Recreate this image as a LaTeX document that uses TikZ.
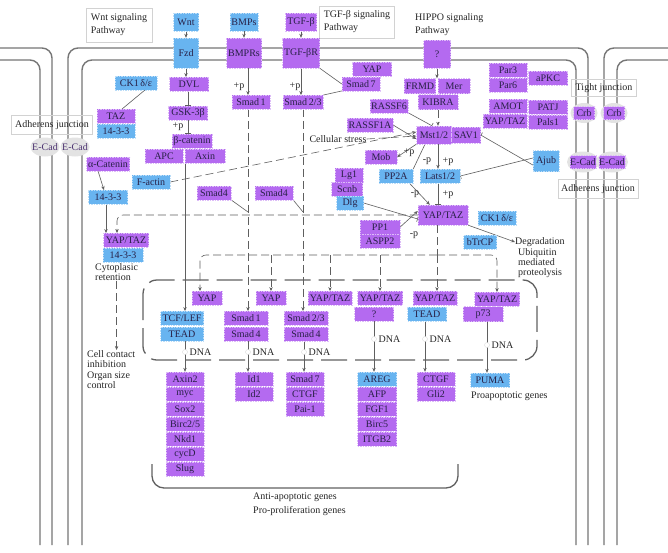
\documentclass[tikz,border=0pt]{standalone}
\usepackage{fontspec}
\setmainfont{Liberation Serif}
\usetikzlibrary{arrows.meta,shapes.geometric}
\definecolor{purp}{RGB}{180,106,240}
\definecolor{blu}{RGB}{104,180,240}
\definecolor{memb}{RGB}{118,118,118}
\definecolor{lnc}{RGB}{95,95,95}
\definecolor{txt}{RGB}{40,32,70}
\pgfdeclarelayer{back}
\pgfdeclarelayer{mid}
\pgfsetlayers{back,mid,main}
\begin{document}
\begin{tikzpicture}[x=1pt,y=-1pt,font=\fontsize{10}{10.6}\selectfont,
  box/.style={rectangle,minimum height=13.5pt,inner xsep=1.5pt,inner ysep=0.5pt,text=txt,draw=white!55!purp,dash pattern=on 1.5pt off 1pt,line width=0.4pt},
  pb/.style={box,fill=purp},
  bb/.style={box,fill=blu,draw=white!55!blu},
  gb/.style={pb,minimum height=14pt,minimum width=38pt},
  lab/.style={draw=gray!35,solid,align=left,inner sep=3pt,text=black!85,font=\fontsize{10}{13}\selectfont},
  txtn/.style={align=left,inner sep=0pt,text=black!85},
  plab/.style={inner sep=0.5pt,text=black!85},
  mem/.style={draw=memb,line width=1.4pt,rounded corners=10pt},
  ln/.style={draw=lnc,line width=0.6pt},
  arr/.style={ln,-{Stealth[length=4pt,width=3.4pt]}},
  inh/.style={ln,-{Bar[width=6pt]}},
  dsh/.style={ln,dash pattern=on 8pt off 4pt},
  ecbg/.style={ellipse,fill=gray!22,inner sep=0pt},
  dnac/.style={circle,fill=white,draw=gray!30,inner sep=0pt,minimum size=5pt},
  env/.style={draw=black!62,line width=1.3pt}
]
\useasboundingbox (0,0) rectangle (668,552);

% ---------- labels ----------
\node[lab,minimum width=66pt,minimum height=34pt] (wntlab) at (119,25) {Wnt signaling\\Pathway};
\node[lab,minimum width=75pt,minimum height=32pt] (tgflab) at (357,22) {TGF-β signaling\\Pathway};
\node[txtn,anchor=north west,font=\fontsize{10}{13}\selectfont] (hippolab) at (415,13) {HIPPO signaling\\Pathway};
\node[lab,minimum width=81pt,minimum height=19pt,align=center] (adhl) at (52,125) {Adherens junction};
\node[lab,minimum width=65pt,minimum height=17pt,align=center] (tightl) at (604,88) {Tight junction};
\node[lab,minimum width=80pt,minimum height=19pt,align=center] (adhr) at (598,189) {Adherens junction};

% ---------- top receptors ----------
\node[bb,minimum width=25pt,minimum height=18pt] (wnt) at (186,22) {Wnt};
\node[bb,minimum width=25pt,minimum height=30pt] (fzd) at (186,53) {Fzd};
\node[bb,minimum width=28pt,minimum height=18pt] (bmps) at (244,22) {BMPs};
\node[pb,minimum width=35pt,minimum height=30pt] (bmpr) at (244,53) {BMPRs};
\node[pb,minimum width=31pt,minimum height=18pt] (tgfb) at (301,22) {TGF-β};
\node[pb,minimum width=37pt,minimum height=30pt] (tgfr) at (301,53) {TGF-βR};
\node[pb,minimum width=27pt,minimum height=28pt] (hq) at (437,54) {?};

% ---------- Wnt branch ----------
\node[pb,minimum width=39pt] (dvl) at (189,84) {DVL};
\node[pb,minimum width=39pt] (gsk) at (188,113) {GSK-3β};
\node[pb,minimum width=40pt] (bcat) at (192,141) {β-catenin};
\node[pb,minimum width=38pt] (apc) at (164,156) {APC};
\node[pb,minimum width=40pt] (axin) at (205,156) {Axin};
\node[plab] (pgsk) at (178,127) {+p};

% ---------- left cytoplasm ----------
\node[bb,minimum width=42pt] (ck1l) at (136,83) {CK1\,δ/ε};
\node[pb,minimum width=38pt] (taz) at (116,116) {TAZ};
\node[bb,minimum width=38pt] (fa) at (116,131) {14-3-3};
\node[pb,minimum width=43pt] (acat) at (108,164) {α-Catenin};
\node[bb,minimum width=38pt] (factin) at (151,182) {F-actin};
\node[bb,minimum width=39pt] (fb) at (108,197) {14-3-3};
\node[pb,minimum width=45pt] (yapl) at (126,240) {YAP/TAZ};
\node[bb,minimum width=40pt] (fc) at (123,255) {14-3-3};
\node[txtn,anchor=north west] (cytoret) at (95,263) {Cytoplasic\\retention};
\node[txtn,anchor=north west] (cellc) at (87,350) {Cell contact\\inhibition\\Organ size\\control};

% ---------- BMP / TGF ----------
\node[pb,minimum width=38pt] (smad1) at (251,102) {Smad\,1};
\node[pb,minimum width=39pt] (smad23) at (303,102) {Smad\,2/3};
\node[plab] (pb1) at (239,87) {+p};
\node[plab] (pb2) at (295,87) {+p};
\node[pb,minimum width=39pt] (yapt) at (372,69) {YAP};
\node[pb,minimum width=38pt] (smad7) at (361,84) {Smad\,7};
\node[pb,minimum width=34pt] (smad4a) at (214,193) {Smad4};
\node[pb,minimum width=38pt] (smad4b) at (274,193) {Smad4};

% ---------- HIPPO ----------
\node[pb,minimum width=30pt,minimum height=15pt] (frmd) at (420,86) {FRMD};
\node[pb,minimum width=32pt,minimum height=15pt] (mer) at (454,86) {Mer};
\node[pb,minimum width=40pt,minimum height=15pt] (kibra) at (438,102) {KIBRA};
\node[pb,minimum width=38pt] (rassf6) at (389,106) {RASSF6};
\node[pb,minimum width=45pt] (rassf1a) at (370,125) {RASSF1A};
\node[pb,minimum width=35pt,minimum height=18pt] (mst) at (434,135) {Mst1/2};
\node[pb,minimum width=29pt,minimum height=16pt] (sav) at (466,135) {SAV1};
\node[txtn] (cstress) at (338,139) {Cellular stress};
\node[pb,minimum width=32pt] (mob) at (381,157) {Mob};
\node[plab] (pmob) at (409,153) {+p};
\node[pb,minimum width=28pt] (lg1) at (349,175) {Lg1};
\node[pb,minimum width=31pt] (scnb) at (347,189) {Scnb};
\node[bb,minimum width=27pt] (dlg) at (350,203) {Dlg};
\node[bb,minimum width=34pt] (pp2a) at (396,176) {PP2A};
\node[bb,minimum width=40pt,minimum height=14pt] (lats) at (440,176) {Lats1/2};
\node[plab] (pm1) at (427,161) {-p};
\node[plab] (pp1l) at (448,162) {+p};
\node[pb,minimum width=50pt,minimum height=20pt] (yapc) at (443,215) {YAP/TAZ};
\node[plab] (pm2) at (415,194) {-p};
\node[plab] (pp2l) at (448,195) {+p};
\node[pb,minimum width=40pt] (pp1) at (380,227) {PP1};
\node[pb,minimum width=40pt] (aspp2) at (380,241) {ASPP2};
\node[plab] (pm3) at (414,235) {-p};
\node[bb,minimum width=38pt] (ck1r) at (497,218) {CK1\,δ/ε};
\node[bb,minimum width=33pt] (btrcp) at (480,242) {bTrCP};
\node[txtn,anchor=west] (degr) at (515,242) {Degradation};
\node[txtn,anchor=north west,font=\fontsize{10}{10}\selectfont] (ubiq) at (518,248) {Ubiquitin\\mediated\\proteolysis};
\node[bb,minimum width=26pt,minimum height=21pt] (ajub) at (546,161) {Ajub};

% ---------- tight junction ----------
\node[pb,minimum width=38pt] (par3) at (508,70) {Par3};
\node[pb,minimum width=38pt] (par6) at (508,85) {Par6};
\node[pb,minimum width=39pt] (apkc) at (548,78) {aPKC};
\node[pb,minimum width=38pt] (amot) at (508,106) {AMOT};
\node[pb,minimum width=44pt] (yaptj) at (505,121) {YAP/TAZ};
\node[pb,minimum width=39pt] (patj) at (548,107) {PATJ};
\node[pb,minimum width=39pt] (pals1) at (548,122) {Pals1};

% ---------- junction proteins ----------
\node[ecbg,minimum width=29pt,minimum height=19pt] (ec1bg) at (45,147) {};
\node[text=txt!75!purp,inner sep=0pt] (ec1) at (45,147) {E-Cad};
\node[ecbg,minimum width=29pt,minimum height=19pt] (ec2bg) at (75,147) {};
\node[text=txt!75!purp,inner sep=0pt] (ec2) at (75,147) {E-Cad};
\node[ecbg,minimum width=32pt,minimum height=21pt] (ec3bg) at (583,162) {};
\node[pb,minimum width=26pt,minimum height=13pt,inner xsep=0pt] (ec3) at (583,162) {E-Cad};
\node[ecbg,minimum width=32pt,minimum height=21pt] (ec4bg) at (612,162) {};
\node[pb,minimum width=26pt,minimum height=13pt,inner xsep=0pt] (ec4) at (612,162) {E-Cad};
\node[ecbg,minimum width=27pt,minimum height=20pt] (crb1bg) at (584,113) {};
\node[pb,minimum width=21pt,minimum height=13pt] (crb1) at (584,113) {Crb};
\node[ecbg,minimum width=27pt,minimum height=20pt] (crb2bg) at (614,113) {};
\node[pb,minimum width=21pt,minimum height=13pt] (crb2) at (614,113) {Crb};

% ---------- nucleus ----------
\node[pb,minimum width=30pt] (yn1) at (207,298) {YAP};
\node[bb,minimum width=43pt] (tcf) at (182,318) {TCF/LEF};
\node[bb,minimum width=43pt] (tead1) at (182,334) {TEAD};
\node[pb,minimum width=30pt] (yn2) at (271,298) {YAP};
\node[pb,minimum width=44pt] (s1n) at (246,318) {Smad\,1};
\node[pb,minimum width=44pt] (s4n1) at (246,334) {Smad\,4};
\node[pb,minimum width=44pt] (yn3) at (330,298) {YAP/TAZ};
\node[pb,minimum width=44pt] (s23n) at (306,318) {Smad\,2/3};
\node[pb,minimum width=44pt] (s4n2) at (306,334) {Smad\,4};
\node[pb,minimum width=45pt] (yn4) at (380,298) {YAP/TAZ};
\node[pb,minimum width=39pt] (qn) at (374,314) {?};
\node[pb,minimum width=44pt] (yn5) at (435,298) {YAP/TAZ};
\node[bb,minimum width=39pt] (tead2) at (427,314) {TEAD};
\node[pb,minimum width=45pt] (yn6) at (497,299) {YAP/TAZ};
\node[pb,minimum width=40pt,minimum height=15pt] (p73) at (483,314) {p73};

% target genes
\node[gb] (g11) at (185,379) {Axin2};
\node[gb] (g12) at (185,394) {myc};
\node[gb] (g13) at (185,409) {Sox2};
\node[gb] (g14) at (185,424) {Birc2/5};
\node[gb] (g15) at (185,439) {Nkd1};
\node[gb] (g16) at (185,454) {cycD};
\node[gb] (g17) at (185,469) {Slug};
\node[gb] (g21) at (254,379) {Id1};
\node[gb] (g22) at (254,394) {Id2};
\node[gb] (g31) at (305,379) {Smad\,7};
\node[gb] (g32) at (305,394) {CTGF};
\node[gb] (g33) at (305,409) {Pai-1};
\node[bb,minimum height=14pt,minimum width=39pt] (g41) at (377,379) {AREG};
\node[gb,minimum width=39pt] (g42) at (377,394) {AFP};
\node[gb,minimum width=39pt] (g43) at (377,409) {FGF1};
\node[gb,minimum width=39pt] (g44) at (377,424) {Birc5};
\node[gb,minimum width=39pt] (g45) at (377,439) {ITGB2};
\node[gb] (g51) at (436,379) {CTGF};
\node[gb] (g52) at (436,394) {Gli2};
\node[bb,minimum height=14pt,minimum width=39pt] (g61) at (490,380) {PUMA};
\node[txtn,anchor=west] (proapo) at (471,396) {Proapoptotic genes};
\node[txtn,anchor=north west,font=\fontsize{10}{14}\selectfont] (antiapo) at (253,493) {Anti-apoptotic genes\\Pro-proliferation genes};

% DNA markers
\node[dnac] (d1) at (185,352) {};
\node[plab,anchor=west] (dn1) at (189,352) {DNA};
\node[dnac] (d2) at (248,352) {};
\node[plab,anchor=west] (dn2) at (252,352) {DNA};
\node[dnac] (d3) at (304,352) {};
\node[plab,anchor=west] (dn3) at (308,352) {DNA};
\node[dnac] (d4) at (374,339) {};
\node[plab,anchor=west] (dn4) at (378,339) {DNA};
\node[dnac] (d5) at (425,339) {};
\node[plab,anchor=west] (dn5) at (429,339) {DNA};
\node[dnac] (d6) at (487,345) {};
\node[plab,anchor=west] (dn6) at (491,345) {DNA};

\coordinate (hub) at (437,255);
\coordinate (j1) at (248,212);
\coordinate (j2) at (303,212);

% ---------- membranes ----------
\begin{pgfonlayer}{back}
\fill[white] (0,0) rectangle (668,552);
\draw[mem] (0,48) -- (52,48) -- (52,545);
\draw[mem] (0,60) -- (40,60) -- (40,545);
\draw[mem] (68,545) -- (68,48) -- (588,48) -- (588,545);
\draw[mem] (82,545) -- (82,60) -- (576,60) -- (576,545);
\draw[mem] (668,48) -- (604,48) -- (604,545);
\draw[mem] (668,60) -- (617,60) -- (617,545);
\draw[env,dash pattern=on 26pt off 8pt,rounded corners=14pt] (143,280) rectangle (537,360);
\draw[env,rounded corners=12pt] (152,464) -- (152,488) -- (458,488) -- (458,464);
\end{pgfonlayer}

% ---------- connectors ----------
\begin{pgfonlayer}{mid}
\draw[arr] (wnt) -- (fzd);
\draw[arr] (fzd) -- (fzd.south |- dvl.north);
\draw[arr] (bmps) -- (bmpr);
\draw[arr] (tgfb) -- (tgfr);
\draw[arr] ([xshift=4pt]bmpr.south) -- ([xshift=4pt]bmpr.south |- smad1.north);
\draw[arr] (tgfr.south) -- (tgfr.south |- smad23.north);
\draw[ln] (tgfr.south east) -- (smad7.west);
\draw[ln] (smad7.south west) -- (smad23.north east);
\draw[inh] (dvl.south -| gsk) -- (gsk.north);
\draw[inh] (gsk.south) -- (gsk.south |- bcat.north);
\draw[arr] ([xshift=-7pt]bcat.south) -- ([xshift=-7pt]bcat.south |- tcf.north);
\draw[ln] ([xshift=9pt]ck1l.south) -- ([xshift=6pt]taz.north);
\draw[arr] ([xshift=-10pt]acat.south) -- ([xshift=-4pt]fb.north);
\draw[arr] ([xshift=-2pt]fb.south) -- ([xshift=-2pt]fb.south |- yapl.north);
\draw[dsh,arr,rounded corners=6pt] (yapc.west) -| ([xshift=-9pt]yapl.north);
\draw[dsh,arr] (cytoret.south) -- (cytoret.south |- cellc.north);
\draw[dsh,arr] (factin.east) -- ([yshift=3pt]mst.west);
\draw[dsh,arr] (cstress.east) -- ([yshift=-1pt]mst.west);
\draw[arr] (rassf1a.east) -- ([yshift=-4pt]mst.west);
\draw[inh] (rassf6.south east) -- ([xshift=-2pt]mst.north);
\draw[arr] (hq.south) -- (hq.south |- frmd.north);
\draw[dsh,arr] (kibra.south) -- (kibra.south |- mst.north);
\draw[arr] (mst.south west) -- (mob.east);
\draw[arr] ([xshift=4pt]mst.south) -- ([xshift=4pt]mst.south |- lats.north);
\draw[ln] (pp2a.north east) -- ([xshift=-9pt]mst.south);
\draw[arr] ([xshift=-4pt]pp2a.south east) -- ([xshift=12pt]yapc.north west);
\draw[inh] ([xshift=-2pt]lats.south) -- ([xshift=-2pt]lats.south |- yapc.north);
\draw[inh] (dlg.east) -- ([yshift=-4pt]yapc.west);
\draw[arr] (pp1.east) -- ([yshift=4pt]yapc.west);
\draw[arr] (yapc.south east) -- (degr.west);
\draw[inh] ([yshift=-4pt]ajub.west) -- (sav.east);
\draw[inh] ([yshift=3pt]ajub.west) -- (lats.east);
\draw[ln] (smad4a.south east) -- (j1);
\draw[ln] (smad4b.south east) -- (j2);
\draw[dsh,arr] ([xshift=-3pt]smad1.south) -- ([xshift=-3pt]smad1.south |- s1n.north);
\draw[dsh,arr] (smad23.south) -- (smad23.south |- s23n.north);
\draw[dsh] ([xshift=-6pt]yapc.south) -- (hub);
\draw[dsh,arr,rounded corners=6pt] (hub) -| ([xshift=-7pt]yn1.north);
\draw[dsh,arr,rounded corners=6pt] (hub) -| (yn6.north);
\draw[dsh,arr] (yn2.north |- hub) -- (yn2.north);
\draw[dsh,arr] (yn3.north |- hub) -- (yn3.north);
\draw[dsh,arr] (yn4.north |- hub) -- (yn4.north);
\draw[dsh,arr] (hub) -- (hub |- yn5.north);
\draw[arr] (tead1.south -| g11) -- (g11.north);
\draw[arr] (s4n1.south -| d2) -- (d2 |- g21.north);
\draw[arr] (s4n2.south -| d3) -- (d3 |- g31.north);
\draw[arr] (qn.south) -- (qn.south |- g41.north);
\draw[arr] ([xshift=-2pt]tead2.south) -- ([xshift=-2pt]tead2.south |- g51.north);
\draw[arr] ([xshift=4pt]p73.south) -- ([xshift=4pt]p73.south |- g61.north);
\end{pgfonlayer}
\end{tikzpicture}
\end{document}
